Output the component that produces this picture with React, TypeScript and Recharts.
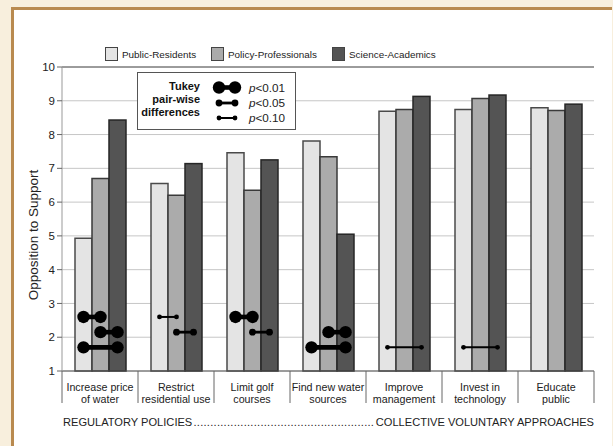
import React from 'react';
import { BarChart, Bar, XAxis, YAxis, CartesianGrid, Legend, ReferenceLine } from 'recharts';

const categories = [
  'Increase price\nof water',
  'Restrict\nresidential use',
  'Limit golf\ncourses',
  'Find new water\nsources',
  'Improve\nmanagement',
  'Invest in\ntechnology',
  'Educate\npublic',
];
const publicResidents = [4.93, 6.55, 7.46, 7.81, 8.69, 8.74, 8.79];
const policyProfessionals = [6.7, 6.2, 6.35, 7.34, 8.74, 9.07, 8.71];
const scienceAcademics = [8.43, 7.14, 7.25, 5.05, 9.13, 9.17, 8.9];
const groups = ['Public-Residents', 'Policy-Professionals', 'Science-Academics'];
const yTicks = [1, 2, 3, 4, 5, 6, 7, 8, 9, 10];

// [category, from group, to group, height, p level]
const tukeyPairs: [number, number, number, number, string][] = [
  [0, 0, 1, 2.6, '0.01'],
  [0, 1, 2, 2.15, '0.01'],
  [0, 0, 2, 1.7, '0.01'],
  [1, 0, 1, 2.6, '0.10'],
  [1, 1, 2, 2.15, '0.05'],
  [2, 0, 1, 2.6, '0.01'],
  [2, 1, 2, 2.15, '0.05'],
  [3, 1, 2, 2.15, '0.01'],
  [3, 0, 2, 1.7, '0.01'],
  [4, 0, 2, 1.7, '0.10'],
  [5, 0, 2, 1.7, '0.10'],
];
const pLevels = ['0.01', '0.05', '0.10'];
const tukeyTitle = ['Tukey', 'pair-wise', 'differences'];

const bottomLeft = 'REGULATORY POLICIES';
const bottomRight = 'COLLECTIVE VOLUNTARY APPROACHES';

const FONT = "'Liberation Sans', Arial, sans-serif";
const fills = ['#e4e4e4', '#ababab', '#545454'];
const strokes = ['#4a4a4a', '#3a3a3a', '#262626'];
const dumbbell: Record<string, { r: number; w: number }> = {
  '0.01': { r: 6.2, w: 4.6 },
  '0.05': { r: 3.4, w: 2.8 },
  '0.10': { r: 2.4, w: 2 },
};

const data = categories.map((name, i) => ({
  name,
  residents: publicResidents[i],
  professionals: policyProfessionals[i],
  academics: scienceAcademics[i],
}));

let ctx: CanvasRenderingContext2D | null = null;
function measure(text: string, size: number) {
  if (!ctx) ctx = document.createElement('canvas').getContext('2d');
  if (!ctx) return text.length * size * 0.55;
  ctx.font = `${size}px 'Liberation Sans', Arial, sans-serif`;
  return ctx.measureText(text).width;
}

// last series draws the bar plus the Tukey dumbbells of its category, using the bar geometry
function AcademicsBar(props: any) {
  const { x, y, width, height, payload } = props;
  const cat = categories.indexOf(payload.name);
  const bottom = y + height;
  const perUnit = height / (payload.academics - yTicks[0]);
  const toY = (v: number) => bottom - (v - yTicks[0]) * perUnit;
  const centre = (g: number) => x + width / 2 - (2 - g) * width;
  return (
    <g>
      <rect x={x} y={y} width={width} height={height} fill={fills[2]} stroke={strokes[2]} strokeWidth={1.5} />
      {tukeyPairs
        .filter((t) => t[0] === cat)
        .map((t, i) => {
          const s = dumbbell[t[4]];
          const yy = toY(t[3]);
          return (
            <g key={i}>
              <line x1={centre(t[1])} x2={centre(t[2])} y1={yy} y2={yy} stroke="#000" strokeWidth={s.w} />
              <circle cx={centre(t[1])} cy={yy} r={s.r} fill="#000" />
              <circle cx={centre(t[2])} cy={yy} r={s.r} fill="#000" />
            </g>
          );
        })}
    </g>
  );
}

function CategoryTick(props: any) {
  const { x, y, payload, index } = props;
  const half = payload.offset || 38;
  const lines = String(payload.value).split('\n');
  return (
    <g>
      <line x1={x - half} x2={x - half} y1={y} y2={y + 32} stroke="#666" />
      {index === categories.length - 1 && (
        <line x1={x + half} x2={x + half} y1={y} y2={y + 32} stroke="#666" />
      )}
      {lines.map((l, i) => (
        <text key={i} x={x} y={y + 19.5 + i * 12.4} textAnchor="middle" fontSize={10.7} fontFamily={FONT} fill="#222">
          {l}
        </text>
      ))}
    </g>
  );
}

function LegendContent() {
  const itemX = [0, 106, 227];
  return (
    <svg width={420} height={22} style={{ display: 'block' }}>
      {groups.map((g, i) => (
        <g key={g}>
          <rect x={itemX[i] + 0.5} y={2.5} width={12} height={13} fill={fills[i]} stroke="#444" />
          <text x={itemX[i] + 17} y={13} fontSize={9.9} fontFamily={FONT} fill="#222">
            {g}
          </text>
        </g>
      ))}
    </svg>
  );
}

function TukeyBox() {
  const rows = [14.5, 30, 45];
  const titleY = [16.5, 30, 43];
  return (
    <div
      style={{
        position: 'absolute',
        left: 137,
        top: 72,
        width: 157,
        height: 56,
        border: '1px solid #555',
        background: '#fff',
      }}
    >
      <svg width={157} height={56} style={{ display: 'block' }}>
        {tukeyTitle.map((t, i) => (
          <text key={t} x={62} y={titleY[i]} textAnchor="end" fontSize={11} fontWeight="bold" fontFamily={FONT} fill="#111">
            {t}
          </text>
        ))}
        {pLevels.map((p, i) => {
          const s = dumbbell[p];
          return (
            <g key={p}>
              <line x1={81} x2={97} y1={rows[i]} y2={rows[i]} stroke="#000" strokeWidth={s.w} />
              <circle cx={81} cy={rows[i]} r={s.r} fill="#000" />
              <circle cx={97} cy={rows[i]} r={s.r} fill="#000" />
              <text x={111} y={rows[i] + 4.2} fontSize={11.7} fontFamily={FONT} fill="#222">
                <tspan fontStyle="italic">p</tspan>
                {'<' + p}
              </text>
            </g>
          );
        })}
      </svg>
    </div>
  );
}

function BottomNote() {
  const size = 11.1;
  const leftW = measure(bottomLeft, size);
  const rightW = measure(bottomRight, size);
  const x0 = 63;
  const x1 = 594;
  return (
    <svg width={613} height={30} style={{ position: 'absolute', left: 0, top: 408 }}>
      <g fontSize={size} fontFamily={FONT} fill="#222">
        <text x={x0} y={18}>{bottomLeft}</text>
        <text x={x0 + leftW + 1} y={18} textLength={x1 - rightW - x0 - leftW - 2} lengthAdjust="spacing">
          {'.'.repeat(54)}
        </text>
        <text x={x1} y={18} textAnchor="end">{bottomRight}</text>
      </g>
    </svg>
  );
}

export default function App() {
  return (
    <div style={{ position: 'fixed', left: 0, top: 0, width: 613, height: 446, background: '#f8efdd', overflow: 'hidden' }}>
      <div
        style={{
          position: 'absolute',
          left: 11,
          top: 7,
          right: 1,
          bottom: -10,
          background: '#fff',
          borderLeft: '3px solid #b98a4f',
          borderTop: '3px solid #b98a4f',
        }}
      />
      <div style={{ position: 'absolute', left: 0, top: 0 }}>
        <BarChart
          width={613}
          height={446}
          data={data}
          margin={{ top: 45, right: 19, bottom: 39, left: 0 }}
          barCategoryGap={13}
          barGap={0}
        >
          <CartesianGrid vertical={false} stroke="#c6c6c6" />
          <Legend verticalAlign="top" content={<LegendContent />} wrapperStyle={{ left: 105, top: 45, width: 420, height: 22 }} />
          <XAxis
            dataKey="name"
            interval={0}
            tickLine={false}
            tickSize={0}
            tickMargin={0}
            height={36}
            axisLine={{ stroke: '#555' }}
            tick={<CategoryTick />}
          />
          <YAxis
            domain={[1, 10]}
            ticks={yTicks}
            width={62}
            tickSize={5}
            tickMargin={2}
            axisLine={{ stroke: '#999' }}
            tickLine={{ stroke: '#666' }}
            tick={{ fontSize: 11.5, fontFamily: FONT, fill: '#222' }}
            label={{ value: 'Opposition to Support', angle: -90, position: 'center', dx: 2, dy: 16, fontSize: 13.5, fontFamily: FONT, fill: '#222' }}
          />
          <YAxis yAxisId="frame" orientation="right" domain={[1, 10]} width={0} tick={false} tickLine={false} axisLine={{ stroke: '#555' }} />
          <ReferenceLine y={10} stroke="#555" />
          <Bar dataKey="residents" fill={fills[0]} stroke={strokes[0]} strokeWidth={1.5} isAnimationActive={false} />
          <Bar dataKey="professionals" fill={fills[1]} stroke={strokes[1]} strokeWidth={1.5} isAnimationActive={false} />
          <Bar dataKey="academics" fill={fills[2]} stroke={strokes[2]} strokeWidth={1.5} isAnimationActive={false} shape={<AcademicsBar />} />
        </BarChart>
      </div>
      <TukeyBox />
      <BottomNote />
    </div>
  );
}
